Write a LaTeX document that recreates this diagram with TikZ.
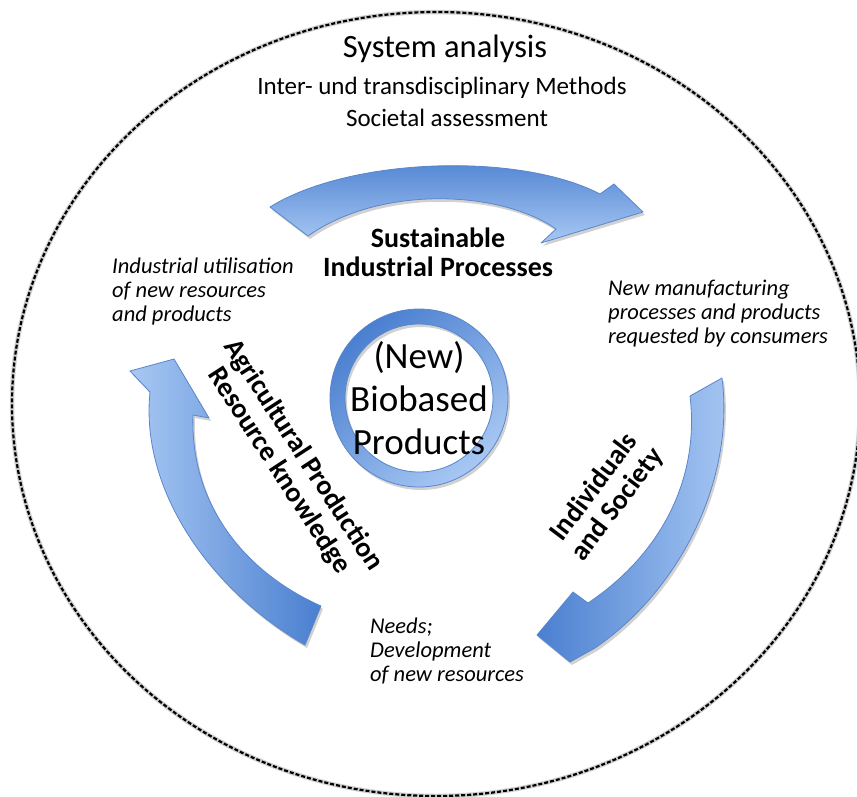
\documentclass[tikz,border=0pt]{standalone}
\usepackage{fontspec}
\setmainfont{Carlito}
\definecolor{arrdark}{HTML}{4A7FD0}
\definecolor{arrlight}{HTML}{A8C8F3}
\definecolor{arredge}{HTML}{5A86CC}
\newcommand\toparrow[1]{\path[#1] (270,207) .. controls (350,157) and (520,152) .. (600,194) -- (614,184) -- (643,212) -- (541,243) -- (556,229) .. controls (500,190) and (380,185) .. (308,236) -- cycle;}
\newcommand\leftarrowshape[1]{\path[#1] (305,645) .. controls (210,590) and (140,490) .. (150,392) -- (130,371) -- (174,359) -- (209,418) -- (193,415) .. controls (190,500) and (240,570) .. (321,606) -- cycle;}
\newcommand\rightarrowshape[1]{\path[#1] (722,378) .. controls (735,480) and (680,590) .. (595,648) -- (570,662) -- (537,635) -- (573,592) -- (588,603) .. controls (660,555) and (700,480) .. (690,396) -- cycle;}
\tikzset{
  shadowstyle/.style={fill=black, opacity=.18, shift={(2,3)}},
  arrowbody/.style={shade, draw=arredge, line width=0.8pt, line join=round},
  boldlbl/.style={font=\bfseries\fontsize{28}{29}\selectfont, align=center, inner sep=0pt},
  itlbl/.style={font=\itshape\fontsize{22.5}{24}\selectfont, align=left, inner sep=0pt, anchor=base west},
  toplbl/.style={inner sep=0pt, anchor=base},
}
\begin{document}
\begin{tikzpicture}[x=1pt,y=-1pt]
\useasboundingbox (0,0) rectangle (857,796);
\fill[white] (0,0) rectangle (857,796);
% outer dashed boundary
\draw[black!40, line width=4.5pt, opacity=.45] (436,404) ellipse [x radius=424, y radius=392];
\draw[black, line width=2.2pt, dash pattern=on 4pt off 2pt] (436,404) ellipse [x radius=424, y radius=392];
% arrows
\toparrow{shadowstyle}
\toparrow{arrowbody, top color=arrdark, bottom color=arrlight}
\leftarrowshape{shadowstyle}
\leftarrowshape{arrowbody, left color=arrlight, right color=arrdark}
\rightarrowshape{shadowstyle}
\rightarrowshape{arrowbody, left color=arrdark, right color=arrlight}
% central ring
\path[fill=black, opacity=.18, even odd rule] (421,401) circle (89) (421,401) circle (74);
\path[shade, even odd rule, draw=arredge, line width=0.8pt, top color=arrdark, bottom color=arrlight, shading angle=40] (419,398) circle (89) (419,398) circle (74);
\node[font=\fontsize{37}{43}\selectfont, align=center, inner sep=0pt] (core) at (419,398) {(New)\\Biobased\\Products};
% top texts
\node[toplbl, font=\fontsize{32.5}{33}\selectfont] (sys) at (445,57) {System analysis};
\node[toplbl, font=\fontsize{25}{25}\selectfont] (inter) at (442,94) {Inter- und transdisciplinary Methods};
\node[toplbl, font=\fontsize{25}{25}\selectfont] (soc) at (447,126) {Societal assessment};
% arrow labels
\node[boldlbl] (sip) at (438,252) {Sustainable\\Industrial Processes};
\node[boldlbl, rotate=53] (ind) at (606,496) {Individuals\\and Society};
\node[boldlbl, rotate=-57] (agr) at (291,463) {Agricultural Production\\Resource knowledge};
% italic notes
\node[itlbl] (iu) at (112,321) {Industrial utilisation\\of new resources\\and products};
\node[itlbl] (nm) at (608,343) {New manufacturing\\processes and products\\requested by consumers};
\node[itlbl] (nd) at (370,681) {Needs;\\Development\\of new resources};
\end{tikzpicture}
\end{document}
